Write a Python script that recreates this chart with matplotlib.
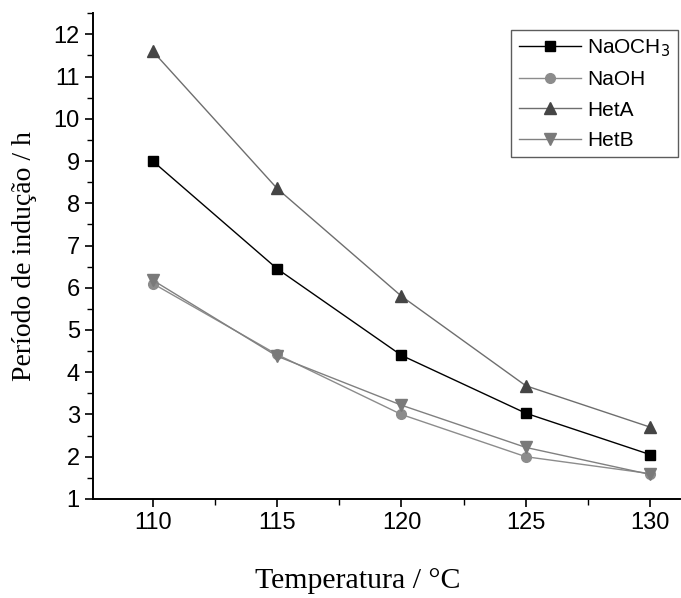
import numpy as np
import matplotlib as mpl
mpl.use('Agg')
import matplotlib.pyplot as plt
from matplotlib.ticker import MultipleLocator

# Data
temp = [110, 115, 120, 125, 130]
naoch3 = [9.0, 6.45, 4.4, 3.03, 2.05]
naoh = [6.1, 4.42, 3.0, 2.0, 1.6]
heta = [11.6, 8.35, 5.8, 3.68, 2.7]
hetb = [6.18, 4.38, 3.22, 2.22, 1.58]

fg = plt.figure(figsize=(6.81, 5.98), dpi=100)
ax = fg.add_axes([0.1366, 0.1656, 0.8620, 0.8124])

ax.plot(temp, naoch3, color='black', lw=1, marker='s', ms=7, mfc='black', mec='black', label='NaOCH$_3$')
ax.plot(temp, naoh, color='#8c8c8c', lw=1, marker='o', ms=7, mfc='#8c8c8c', mec='#8c8c8c', label='NaOH')
ax.plot(temp, heta, color='#6e6e6e', lw=1, marker='^', ms=8, mfc='#454545', mec='#454545', label='HetA')
ax.plot(temp, hetb, color='#808080', lw=1, marker='v', ms=8, mfc='#7a7a7a', mec='#7a7a7a', label='HetB')

ax.set_xlim(107.6, 131.2)
ax.set_ylim(1, 12.5)
ax.set_xticks(temp)
ax.set_yticks(range(1, 13))
ax.xaxis.set_minor_locator(MultipleLocator(2.5))
ax.yaxis.set_minor_locator(MultipleLocator(0.5))

for s in ['top', 'right']:
  ax.spines[s].set_visible(False)
for s in ['left', 'bottom']:
  ax.spines[s].set_linewidth(1.4)

ax.tick_params(which='major', direction='out', length=6, width=1.2, labelsize=17)
ax.tick_params(which='minor', direction='out', length=4, width=1.0)
for lab in ax.get_xticklabels() + ax.get_yticklabels():
  lab.set_fontfamily('Liberation Sans')

ax.set_xlabel('Temperatura / °C', fontfamily='Liberation Serif', fontsize=21.5)
ax.xaxis.set_label_coords(0.451, -0.142)
ax.set_ylabel('Período de indução / h', fontfamily='Liberation Serif', fontsize=20)
ax.yaxis.set_label_coords(-0.095, 0.5)

leg = ax.legend(loc='upper right', bbox_to_anchor=(1.0, 0.97), prop={'family': 'Liberation Sans', 'size': 15},
                frameon=True, fancybox=False, edgecolor='#333333', handlelength=3.0, labelspacing=0.55,
                borderpad=0.35, handletextpad=0.3, borderaxespad=0.1)
leg.get_frame().set_linewidth(1.0)

fg.savefig('out.png', dpi=100)
